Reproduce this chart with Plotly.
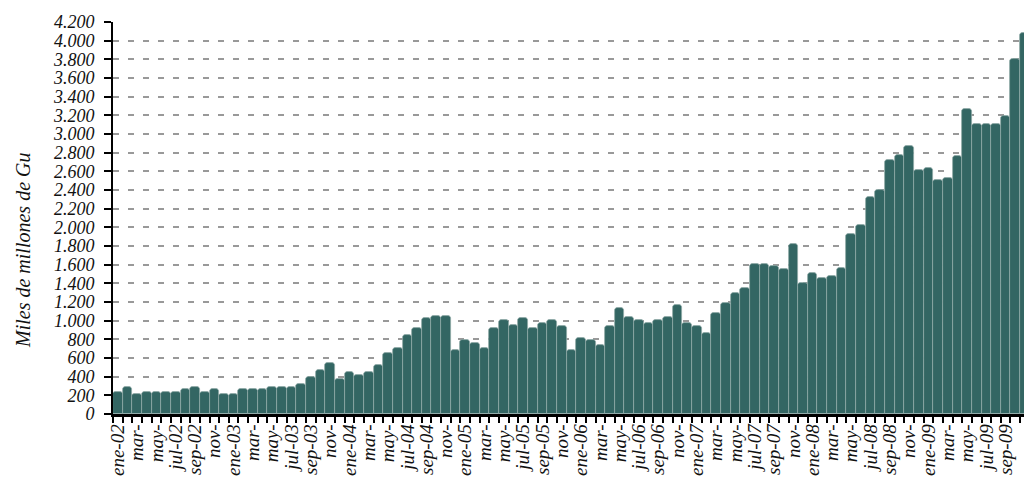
import plotly.graph_objects as go

# ---- data -------------------------------------------------------------
month_names = ["ene", "feb", "mar", "abr", "may", "jun",
               "jul", "ago", "sep", "oct", "nov", "dic"]
years = ["02", "03", "04", "05", "06", "07", "08", "09"]

values_2002 = [240, 290, 215, 240, 240, 240, 240, 268, 290, 240, 268, 215]
values_2003 = [215, 265, 265, 265, 290, 290, 290, 318, 397, 476, 551, 370]
values_2004 = [449, 422, 451, 526, 658, 712, 848, 923, 1030, 1055, 1055, 687]
values_2005 = [790, 765, 712, 923, 1002, 951, 1027, 919, 977, 1002, 948, 688]
values_2006 = [819, 798, 737, 948, 1137, 1034, 1005, 977, 1005, 1034, 1163, 977]
values_2007 = [948, 869, 1084, 1188, 1295, 1345, 1610, 1610, 1585, 1558, 1817, 1399]
values_2008 = [1506, 1452, 1481, 1560, 1928, 2028, 2321, 2400, 2717, 2770, 2876, 2611]
values_2009 = [2640, 2504, 2533, 2769, 3273, 3108, 3108, 3108, 3191, 3799, 4081]

values = (values_2002 + values_2003 + values_2004 + values_2005 +
          values_2006 + values_2007 + values_2008 + values_2009)

categories = [f"{m}-{y}" for y in years for m in month_names][:len(values)]

# months labelled with year / labelled without year
labels_with_year = ["ene", "jul", "sep"]
labels_without_year = ["mar", "may", "nov"]
tick_labels = []
for c in categories:
    m = c.split("-")[0]
    if m in labels_with_year:
        tick_labels.append(c)
    elif m in labels_without_year:
        tick_labels.append(m + "-")
    else:
        tick_labels.append("")

y_ticks = [0, 200, 400, 600, 800, 1000, 1200, 1400, 1600, 1800, 2000,
           2200, 2400, 2600, 2800, 3000, 3200, 3400, 3600, 3800, 4000, 4200]
y_tick_labels = ["0", "200", "400", "600", "800", "1.000", "1.200", "1.400",
                 "1.600", "1.800", "2.000", "2.200", "2.400", "2.600", "2.800",
                 "3.000", "3.200", "3.400", "3.600", "3.800", "4.000", "4.200"]

y_title = "Miles de millones de Gu"

# ---- figure -----------------------------------------------------------
def serif_italic(size):
    return dict(family="Liberation Serif, Times New Roman, serif",
                size=size, color="#111111", style="italic")

fig = go.Figure(
    go.Bar(
        x=categories,
        y=values,
        marker=dict(color="#336663",
                    line=dict(color="#8fa9a7", width=0.8)),
        hoverinfo="x+y",
    )
)

fig.update_layout(
    width=1024,
    height=488,
    margin=dict(l=113, r=0, t=22, b=74),
    paper_bgcolor="white",
    plot_bgcolor="white",
    bargap=0.0,
    barcornerradius=3,
    showlegend=False,
    font=serif_italic(18),
)

fig.update_xaxes(
    type="category",
    range=[-0.5, 93.9],
    tickmode="array",
    tickvals=categories,
    ticktext=tick_labels,
    tickangle=-90,
    tickson="boundaries",
    ticks="outside",
    ticklen=6,
    tickwidth=2,
    tickcolor="black",
    showline=True,
    linecolor="black",
    linewidth=2.5,
    showgrid=False,
    tickfont=serif_italic(19),
)

fig.update_yaxes(
    range=[0, 4200],
    tickmode="array",
    tickvals=y_ticks,
    ticktext=y_tick_labels,
    ticks="outside",
    ticklen=7,
    tickwidth=2,
    tickcolor="black",
    ticklabelstandoff=6,
    showline=True,
    linecolor="black",
    linewidth=2,
    showgrid=True,
    gridcolor="#999999",
    gridwidth=2,
    griddash="6px,9px",
    zeroline=False,
    tickfont=serif_italic(18),
)

fig.add_annotation(
    text=y_title,
    xref="paper", yref="paper",
    x=-0.099, y=0.418,
    xanchor="center", yanchor="middle",
    textangle=-90,
    showarrow=False,
    font=serif_italic(20),
)

fig.write_html(
    "out.html",
    config={"responsive": False, "displayModeBar": False},
    post_script="document.body.style.margin='0';document.body.style.overflow='hidden';",
)
